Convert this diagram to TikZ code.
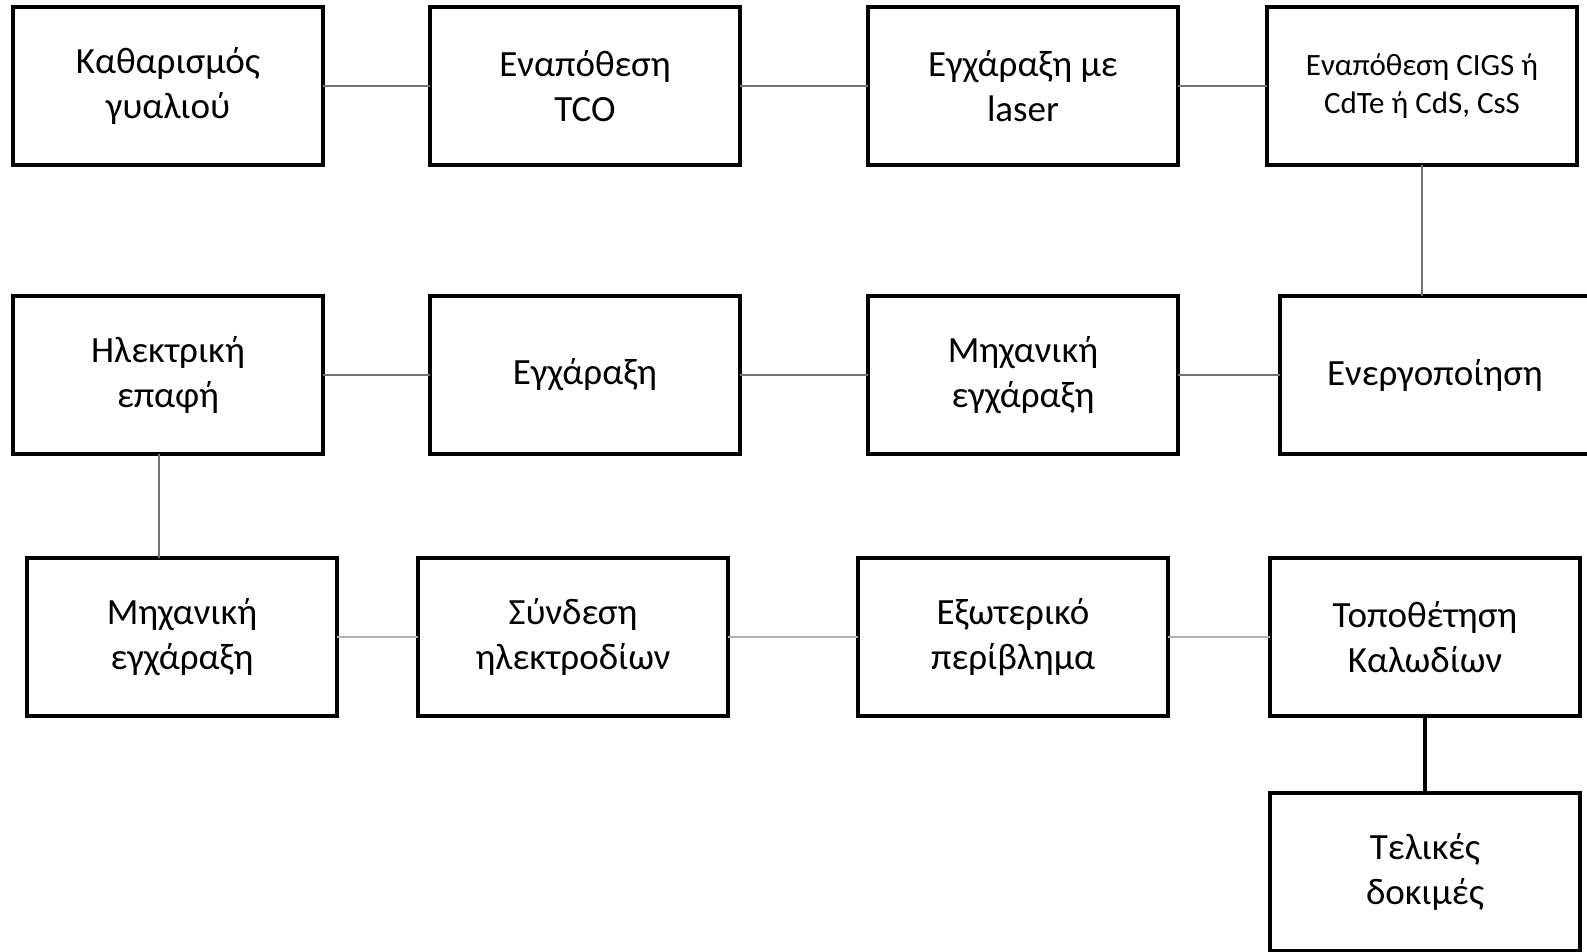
\documentclass[tikz,border=0pt]{standalone}
\usepackage{fontspec}
\setmainfont{Carlito}
\usetikzlibrary{positioning}

\begin{document}
\begin{tikzpicture}[font=\fontsize{18.5}{22.5}\selectfont,
  stage/.style={draw,line width=2.25pt,inner sep=0pt,outer sep=0pt,align=center,minimum width=155pt,minimum height=79pt,fill=white},
  link/.style={draw=black!55,line width=1pt},
  faint/.style={draw=black!30,line width=1pt},
  heavy/.style={draw=black,line width=2pt}]
\useasboundingbox (0,0) rectangle (793.5pt,-476pt);
% first row
\node[stage] (clean) at (84pt,-43pt) {Καθαρισμός\\γυαλιού};
\node[stage,right=53.5pt of clean] (tco) {Εναπόθεση\\TCO};
\node[stage,right=64pt of tco] (laser) {Εγχάραξη με\\laser};
\node[stage,right=44.5pt of laser,font=\fontsize{15.5}{19}\selectfont] (absorb) {Εναπόθεση CIGS ή\\CdTe ή CdS, CsS};
% second row
\node[stage,below=65.5pt of clean] (contact) {Ηλεκτρική\\επαφή};
\node[stage,right=53.5pt of contact] (etch) {Εγχάραξη};
\node[stage,right=64pt of etch] (mech) {Μηχανική\\εγχάραξη};
\node[stage,right=51pt of mech] (activ) {Ενεργοποίηση};
% third row
\node[stage,below=52pt of contact,xshift=7pt] (mechb) {Μηχανική\\εγχάραξη};
\node[stage,right=40.5pt of mechb] (electr) {Σύνδεση\\ηλεκτροδίων};
\node[stage,right=65pt of electr] (encl) {Εξωτερικό\\περίβλημα};
\node[stage,right=51pt of encl] (cables) {Τοποθέτηση\\Καλωδίων};
\node[stage,below=38.5pt of cables] (tests) {Τελικές\\δοκιμές};
% connectors
\draw[link] (clean) -- (tco);
\draw[link] (tco) -- (laser);
\draw[link] (laser) -- (absorb);
\draw[link] (absorb.south) -- (absorb.south |- activ.north);
\draw[link] (contact) -- (etch);
\draw[link] (etch) -- (mech);
\draw[link] (mech) -- (activ);
\draw[link] ([xshift=-4.5pt]contact.south) -- ([xshift=-4.5pt]contact.south |- mechb.north);
\draw[faint] (mechb) -- (electr);
\draw[faint] (electr) -- (encl);
\draw[faint] (encl) -- (cables);
\draw[heavy] (cables) -- (tests);
\end{tikzpicture}
\end{document}
